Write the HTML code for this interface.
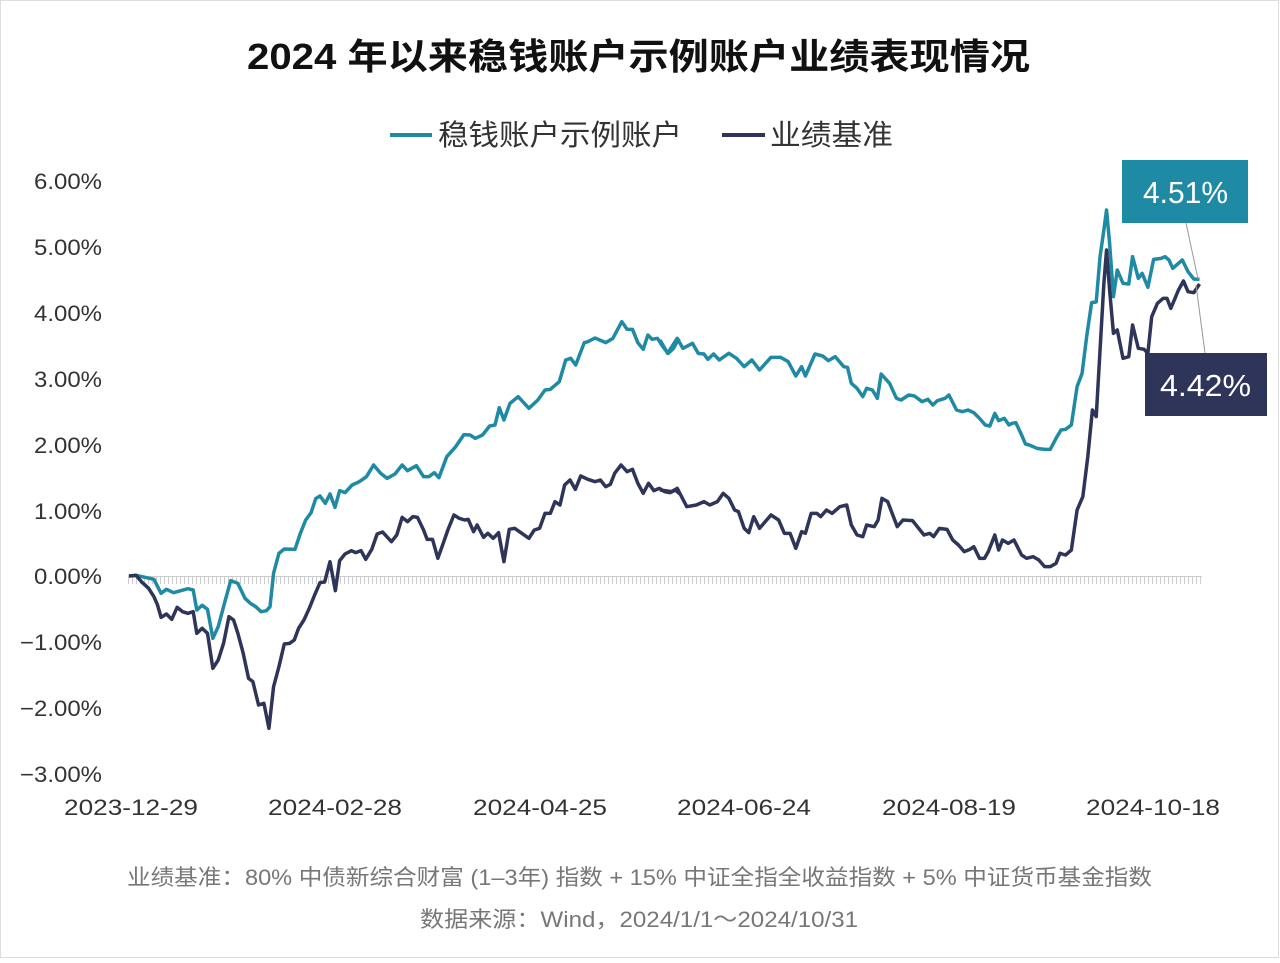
<!DOCTYPE html>
<html><head><meta charset="utf-8"><style>
body{margin:0;background:#fff;}
svg{display:block;font-family:"Liberation Sans","Noto Sans CJK SC",sans-serif;}
</style></head><body>
<svg width="1280" height="963" viewBox="0 0 1280 963">
<rect x="0.5" y="0.5" width="1278" height="957" fill="#fff" stroke="#ddd"/>
<text x="247" y="69" font-size="36" font-weight="bold" fill="#111" textLength="783" lengthAdjust="spacingAndGlyphs">2024 年以来稳钱账户示例账户业绩表现情况</text>
<line x1="390" y1="135" x2="432" y2="135" stroke="#1f8aa3" stroke-width="4"/>
<text x="438" y="145" font-size="29" fill="#333" textLength="244" lengthAdjust="spacingAndGlyphs">稳钱账户示例账户</text>
<line x1="722" y1="135" x2="765" y2="135" stroke="#2e3558" stroke-width="4"/>
<text x="770" y="145" font-size="29" fill="#333" textLength="123" lengthAdjust="spacingAndGlyphs">业绩基准</text>
<g font-size="22" fill="#333">
<text x="34" y="189" textLength="68" lengthAdjust="spacingAndGlyphs">6.00%</text>
<text x="34" y="255" textLength="68" lengthAdjust="spacingAndGlyphs">5.00%</text>
<text x="34" y="321" textLength="68" lengthAdjust="spacingAndGlyphs">4.00%</text>
<text x="34" y="387" textLength="68" lengthAdjust="spacingAndGlyphs">3.00%</text>
<text x="34" y="453" textLength="68" lengthAdjust="spacingAndGlyphs">2.00%</text>
<text x="34" y="519" textLength="68" lengthAdjust="spacingAndGlyphs">1.00%</text>
<text x="34" y="584" textLength="68" lengthAdjust="spacingAndGlyphs">0.00%</text>
<text x="20" y="650" textLength="82" lengthAdjust="spacingAndGlyphs">−1.00%</text>
<text x="20" y="716" textLength="82" lengthAdjust="spacingAndGlyphs">−2.00%</text>
<text x="20" y="782" textLength="82" lengthAdjust="spacingAndGlyphs">−3.00%</text>
</g>
<g font-size="22" fill="#333">
<text x="64" y="815" textLength="134" lengthAdjust="spacingAndGlyphs">2023-12-29</text>
<text x="268" y="815" textLength="134" lengthAdjust="spacingAndGlyphs">2024-02-28</text>
<text x="473" y="815" textLength="134" lengthAdjust="spacingAndGlyphs">2024-04-25</text>
<text x="677" y="815" textLength="134" lengthAdjust="spacingAndGlyphs">2024-06-24</text>
<text x="882" y="815" textLength="134" lengthAdjust="spacingAndGlyphs">2024-08-19</text>
<text x="1086" y="815" textLength="134" lengthAdjust="spacingAndGlyphs">2024-10-18</text>
</g>
<defs><pattern id="tk" x="128" y="0" width="4" height="10" patternUnits="userSpaceOnUse"><rect x="0" y="0" width="1" height="10" fill="#ccc"/></pattern></defs>
<rect x="128" y="576" width="1074" height="8" fill="url(#tk)"/>
<line x1="128" y1="576.5" x2="1202" y2="576.5" stroke="#ccc"/>
<g fill="none" stroke-width="3.5" stroke-linejoin="round">
<polyline transform="translate(120,300) scale(0.35714,0.33333)" vector-effect="non-scaling-stroke" stroke="#1f8aa3" points="25,828 45,826 95,838 115,880 130,868 150,878 190,866 205,870 215,930 230,916 245,928 260,1015 275,980 295,900 310,842 330,850 350,895 365,910 380,920 395,935 410,932 420,920 430,820 445,760 460,747 490,748 505,700 520,660 535,638 548,596 560,588 575,610 588,582 602,622 615,572 630,578 650,555 670,545 690,530 710,495 730,520 748,535 770,522 790,495 805,512 830,497 850,530 865,530 880,518 893,533 915,470 940,440 963,404 980,405 995,415 1015,405 1035,378 1050,375 1062,323 1075,360 1092,310 1115,290 1145,325 1170,300 1190,270 1205,268 1230,245 1248,180 1262,175 1276,195 1300,128 1310,125 1330,114 1360,128 1380,115 1405,65 1420,88 1435,88 1450,128 1465,148 1478,105 1490,118 1505,115 1520,140 1535,160 1550,145 1565,115"/>
<polyline transform="translate(660,150) scale(0.38265,0.33333)" vector-effect="non-scaling-stroke" stroke="#1f8aa3" points="0,570 20,610 45,565 60,595 85,580 100,610 115,612 125,628 140,612 155,630 180,610 200,625 220,650 240,630 260,660 290,622 315,622 335,635 355,678 370,650 380,678 405,612 425,618 440,632 458,620 480,650 490,652 500,700 515,715 530,740 540,715 555,720 568,745 578,672 600,700 618,745 630,750 650,735 665,738 685,755 700,748 713,765 725,752 745,745 755,735 775,780 790,785 805,780 820,788 835,805 850,825 862,828 875,790 885,812 900,805 912,825 920,820 930,818 945,855 955,882 965,885 985,895 1005,898 1020,898 1035,865 1048,840 1060,838 1075,825 1090,710 1103,670 1115,560 1128,458 1140,456 1150,320 1160,240 1167,180 1175,280 1185,440 1195,360 1210,400 1225,402 1235,320 1250,385 1260,370 1275,412 1290,328 1310,325 1320,320 1330,330 1340,355 1365,330 1380,365 1395,387 1410,388"/>
<polyline transform="translate(120,300) scale(0.35714,0.33333)" vector-effect="non-scaling-stroke" stroke="#2e3558" points="25,828 45,826 60,845 80,865 95,890 105,915 115,952 130,942 145,958 160,922 175,935 190,940 205,935 215,1000 230,985 245,1000 260,1105 275,1080 290,1030 305,950 318,960 330,1000 345,1060 360,1135 372,1145 388,1215 403,1210 417,1285 430,1160 445,1100 460,1032 475,1030 488,1020 500,985 515,960 530,925 545,885 560,848 573,846 588,785 603,872 615,782 630,762 648,752 660,758 675,752 688,778 705,748 720,702 735,696 760,725 775,705 790,652 805,665 820,650 833,652 850,690 860,718 875,718 890,775 905,730 918,690 935,645 950,655 965,660 975,658 990,695 1000,675 1018,712 1030,700 1045,715 1060,698 1075,785 1090,688 1105,685 1125,700 1145,715 1160,690 1175,685 1190,640 1205,640 1218,605 1232,615 1245,555 1260,540 1275,568 1290,528 1310,538 1330,545 1345,540 1360,560 1373,553 1385,520 1403,495 1420,515 1435,508 1450,550 1465,580 1480,550 1495,572 1510,565 1525,575 1540,578 1555,570 1568,582"/>
<polyline transform="translate(660,150) scale(0.38265,0.33333)" vector-effect="non-scaling-stroke" stroke="#2e3558" points="0,1020 30,1025 45,1015 70,1070 95,1065 115,1055 130,1065 150,1055 165,1030 180,1045 195,1080 205,1085 220,1135 232,1148 245,1100 260,1135 290,1095 310,1110 325,1150 340,1150 355,1195 370,1145 380,1150 395,1090 410,1090 420,1100 435,1080 450,1090 470,1070 488,1065 500,1125 515,1155 530,1160 540,1125 560,1130 570,1110 580,1045 595,1055 620,1130 635,1110 660,1112 690,1155 705,1150 715,1160 730,1135 750,1138 765,1170 780,1185 795,1205 810,1198 820,1190 835,1225 848,1225 858,1205 875,1155 885,1200 895,1170 910,1180 925,1170 945,1215 958,1225 975,1220 990,1230 1005,1250 1020,1250 1035,1240 1045,1210 1060,1215 1075,1200 1090,1080 1105,1040 1118,920 1130,780 1140,800 1150,600 1160,400 1167,300 1175,420 1185,550 1195,540 1210,625 1225,620 1235,525 1250,595 1265,598 1275,610 1285,500 1300,460 1315,445 1325,445 1335,475 1355,420 1368,393 1380,425 1395,428 1410,402"/>
</g>
<line x1="1186" y1="223" x2="1198" y2="279" stroke="#999" stroke-width="1"/>
<line x1="1196" y1="285" x2="1205" y2="353" stroke="#999" stroke-width="1"/>
<rect x="1122" y="160" width="126" height="63" fill="#1f8aa3"/>
<text x="1143" y="203" font-size="31" fill="#fff" textLength="85" lengthAdjust="spacingAndGlyphs">4.51%</text>
<rect x="1145" y="353" width="122" height="63" fill="#2e3558"/>
<text x="1160" y="396" font-size="31" fill="#fff" textLength="91" lengthAdjust="spacingAndGlyphs">4.42%</text>
<text x="127" y="885" font-size="22" fill="#777" textLength="1025" lengthAdjust="spacingAndGlyphs">业绩基准：80% 中债新综合财富 (1–3年) 指数 + 15% 中证全指全收益指数 + 5% 中证货币基金指数</text>
<text x="420" y="927" font-size="22" fill="#777" textLength="438" lengthAdjust="spacingAndGlyphs">数据来源：Wind，2024/1/1～2024/10/31</text>
</svg>
</body></html>
